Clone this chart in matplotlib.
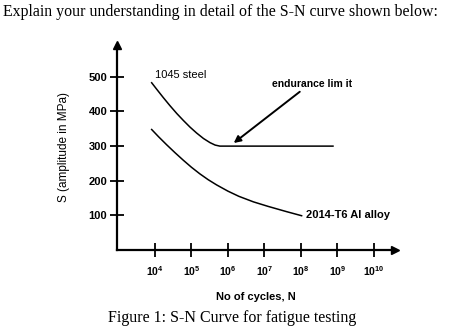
import matplotlib
matplotlib.use("Agg")
import matplotlib.pyplot as plt
import numpy as np

# Data
steel_logN = [3.91, 4.05, 4.23, 4.41, 4.60, 4.78, 4.96, 5.14, 5.33, 5.51, 5.65, 5.78, 8.88]
steel_S = [483, 464, 440, 417, 394, 374, 355, 338, 322, 310, 303, 300, 300]
al_logN = [3.91, 4.10, 4.32, 4.55, 4.78, 5.00, 5.23, 5.46, 5.69, 6.00, 6.30, 6.70, 7.10, 7.60, 8.02]
al_S = [348, 327, 304, 281, 259, 239, 220, 203, 188, 170, 155, 139, 126, 111, 99]
yticks = [100, 200, 300, 400, 500]
xtick_exp = [4, 5, 6, 7, 8, 9, 10]

fig = plt.figure(figsize=(4.73, 3.29), dpi=100)
ax = fig.add_axes([117/473, 79/329, (395-117)/473, 205/329])
ax.set_xscale('log')
ax.set_xlim(10**2.96, 10**10.58)
ax.set_ylim(0, 592)

sans = 'Liberation Sans'
serif = 'Liberation Serif'

ax.plot([10**v for v in steel_logN], steel_S, color='black', lw=1.1)
ax.plot([10**v for v in al_logN], al_S, color='black', lw=1.1)

for s in ['top', 'right']:
    ax.spines[s].set_visible(False)
for s in ['left', 'bottom']:
    ax.spines[s].set_linewidth(1.6)
ax.plot(1, 0, '>k', ms=6, transform=ax.transAxes, clip_on=False)
ax.plot(0, 1, '^k', ms=6, transform=ax.transAxes, clip_on=False)

ax.set_yticks(yticks)
ax.set_yticklabels([str(v) for v in yticks], fontfamily=sans, fontweight='bold', fontsize=8)
ax.set_xticks([10**e for e in xtick_exp])
ax.set_xticklabels([r'$\mathregular{10^{%d}}$' % e for e in xtick_exp], fontfamily=sans, fontweight='bold', fontsize=7.5)
ax.minorticks_off()
ax.tick_params(axis='both', which='major', direction='inout', length=10, width=1.3)
ax.tick_params(axis='y', pad=2)
ax.tick_params(axis='x', pad=5)

ax.set_ylabel('S (amplitude in MPa)', fontfamily=sans, fontsize=8.5, labelpad=13)
ax.set_xlabel('No of cycles, N', fontfamily=sans, fontweight='bold', fontsize=8, labelpad=10)

ax.text(10**4.0, 490, '1045 steel', fontfamily=sans, fontsize=8, ha='left', va='bottom')
ax.text(10**8.15, 101, '2014-T6 Al alloy', fontfamily=sans, fontsize=8, ha='left', va='center', fontweight='bold')
ax.text(10**8.30, 465, 'endurance lim it', fontfamily=sans, fontsize=7.5, fontweight='bold',
        ha='center', va='bottom')
ax.annotate('', xy=(10**6.16, 309), xytext=(10**7.97, 457),
            arrowprops=dict(arrowstyle='-|>', color='black', lw=1.4, mutation_scale=10,
                            shrinkA=0, shrinkB=0))

fig.text(3/473, 1 - 12/329, 'Explain your understanding in detail of the S-N curve shown below:',
         fontfamily=serif, fontsize=11.4, ha='left', va='center')
fig.text(232/473, 1 - 318/329, 'Figure 1: S-N Curve for fatigue testing',
         fontfamily=serif, fontsize=11.5, ha='center', va='center')

fig.savefig('out.png', dpi=100)
